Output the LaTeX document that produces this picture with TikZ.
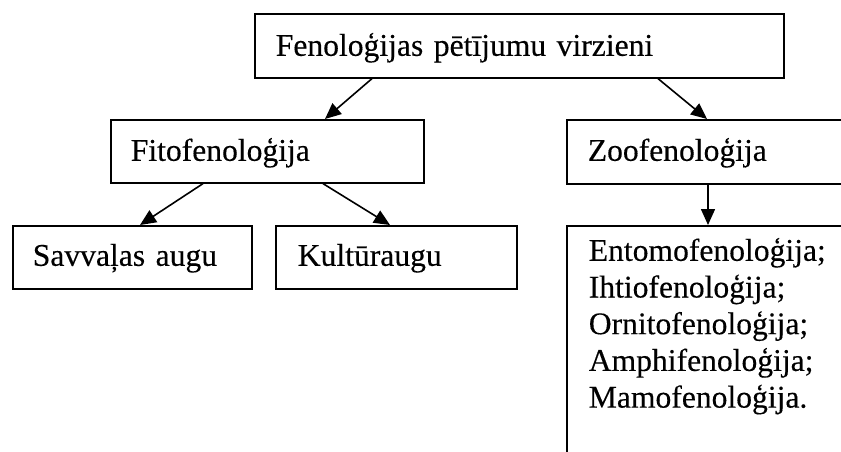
\documentclass[tikz,border=0pt]{standalone}
\usepackage{fontspec}
\setmainfont{Liberation Serif}[FakeBold=0.3]
\usetikzlibrary{arrows.meta}
\begin{document}
\begin{tikzpicture}[x=1pt,y=-1pt,
  box/.style={draw, line width=1.6pt, anchor=north west, align=left, inner ysep=0pt,
    font=\fontsize{31.6}{36.7}\selectfont},
  conn/.style={line width=1.6pt, -{Triangle[length=16pt,width=14pt]}}]
\useasboundingbox (0,0) rectangle (841,452);
\clip (0,0) rectangle (841,452);
\fill[white] (0,0) rectangle (841,452);
\node[box, inner xsep=21pt, text width=487pt, text height=42pt, text depth=22pt] (top) at (254,13) {Fenoloģijas pētījumu virzieni};
\node[box, inner xsep=20pt, text width=273pt, text height=41pt, text depth=22pt] (fito) at (110,119) {Fitofenoloģija};
\node[box, inner xsep=21pt, text width=292pt, text height=41pt, text depth=23pt] (zoo) at (566,119) {Zoofenoloģija};
\node[box, inner xsep=20pt, text width=199pt, text height=40pt, text depth=23pt] (sav) at (12,225) {Savvaļas augu};
\node[box, inner xsep=22pt, text width=197pt, text height=40pt, text depth=23pt] (kul) at (275,225) {Kultūraugu};
\node[box, inner xsep=22pt, text width=290pt, text height=35pt, text depth=240pt] (list) at (566,225)
  {\parbox[t]{290pt}{\raggedright Entomofenoloģija;\\ Ihtiofenoloģija;\\ Ornitofenoloģija;\\ Amphifenoloģija;\\ Mamofenoloģija.}};
\draw[conn] ([xshift=118pt]top.south west) -- ([xshift=215pt]fito.north west);
\draw[conn] ([xshift=404pt]top.south west) -- ([xshift=141pt]zoo.north west);
\draw[conn] ([xshift=93pt]fito.south west) -- ([xshift=128pt]sav.north west);
\draw[conn] ([xshift=213pt]fito.south west) -- ([xshift=115pt]kul.north west);
\draw[conn] ([xshift=142pt]zoo.south west) -- ([xshift=142pt]list.north west);
\end{tikzpicture}
\end{document}
